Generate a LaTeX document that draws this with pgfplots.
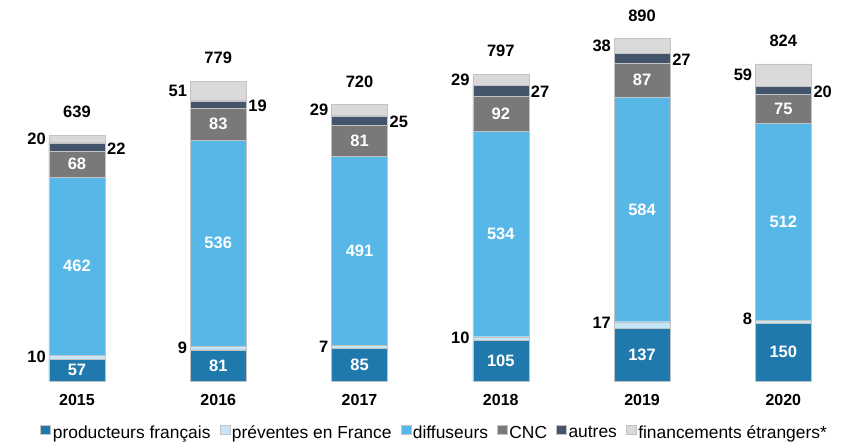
\documentclass[border=0pt]{standalone}
\usepackage{fontspec}
\setmainfont{Liberation Sans}
\usepackage{pgfplots}
\pgfplotsset{compat=1.18}
\usepackage{pgfplotstable}

\definecolor{cprod}{RGB}{31,121,172}
\definecolor{cprev}{RGB}{198,229,247}
\definecolor{cdiff}{RGB}{87,184,232}
\definecolor{ccnc}{RGB}{121,121,121}
\definecolor{caut}{RGB}{68,84,106}
\definecolor{cfin}{RGB}{217,217,217}
\definecolor{cedge}{RGB}{195,195,195}

\pgfplotstableread{
x prod prev diff cnc autres fin
0 57 10 462 68 22 20
1 81 9 536 83 19 51
2 85 7 491 81 25 29
3 105 10 534 92 27 29
4 137 17 584 87 27 38
5 150 8 512 75 20 59
}\data

% white labels inside the bars (segment middles)
\pgfplotstableread{
x y lab
0 28.5 57
1 40.5 81
2 42.5 85
3 52.5 105
4 68.5 137
5 75 150
0 298 462
1 358 536
2 337.5 491
3 382 534
4 446 584
5 414 512
0 563 68
1 667.5 83
2 623.5 81
3 695 92
4 781.5 87
5 707.5 75
}\inlab

% labels left of the bars
\pgfplotstableread{
x y lab
0 64 10
1 87 9
2 90 7
3 113 10
4 150 17
5 162 8
0 629 20
1 753.5 51
2 703.5 29
3 782.5 29
4 871 38
5 794.5 59
}\leftlab

% labels right of the bars
\pgfplotstableread{
x y lab
0 604 22
1 714.5 19
2 672.5 25
3 750.5 27
4 834.5 27
5 751 20
}\rightlab

% totals
\pgfplotstableread{
x y lab
0 699 639
1 839 779
2 778 720
3 857 797
4 948 890
5 884 824
}\totlab

\pgfplotsset{
  common/.style={
    scale only axis, width=849pt, height=381pt,
    xmin=-0.545, xmax=5.465, ymin=0, ymax=990,
    clip=false,
  },
}

\begin{document}
\begin{tikzpicture}
\begin{axis}[
  common,
  ybar stacked, bar width=56pt,
  axis line style={draw=none},
  major tick length=0pt,
  ytick=\empty,
  xtick={0,1,2,3,4,5},
  xticklabels={\textbf{2015},\textbf{2016},\textbf{2017},\textbf{2018},\textbf{2019},\textbf{2020}},
  xticklabel style={font=\fontsize{16}{18}\selectfont, yshift=-10pt},
  legend style={at={(0.512,-0.1365)}, anchor=center, draw=none, fill=none,
    legend columns=-1, font=\fontsize{17.4}{19}\selectfont,
    /tikz/every even column/.append style={column sep=7pt},
    inner sep=0pt, outer sep=0pt},
  legend image code/.code={\fill[#1] (0pt,-1pt) rectangle (10pt,8pt);},
  every axis plot/.append style={draw=cedge, line width=0.4pt},
]
\addplot[fill=cprod] table[x=x, y=prod] {\data};
\addlegendentry{producteurs français}
\addplot[fill=cprev] table[x=x, y=prev] {\data};
\addlegendentry{préventes en France}
\addplot[fill=cdiff] table[x=x, y=diff] {\data};
\addlegendentry{diffuseurs}
\addplot[fill=ccnc] table[x=x, y=cnc] {\data};
\addlegendentry{CNC}
\addplot[fill=caut] table[x=x, y=autres] {\data};
\addlegendentry{autres}
\addplot[fill=cfin] table[x=x, y=fin] {\data};
\addlegendentry{financements étrangers*}
\coordinate (tl) at (rel axis cs:0,1);
\end{axis}
\begin{axis}[common, hide axis]
\addplot[draw=none, mark=none, nodes near coords, point meta=explicit symbolic,
  nodes near coords style={anchor=center, text=white, font=\fontsize{16.5}{18}\selectfont\bfseries}]
  table[x=x, y=y, meta=lab] {\inlab};
\addplot[draw=none, mark=none, nodes near coords, point meta=explicit symbolic,
  nodes near coords style={anchor=east, xshift=-30pt, inner sep=1pt, text=black, font=\fontsize{16.5}{18}\selectfont\bfseries}]
  table[x=x, y=y, meta=lab] {\leftlab};
\addplot[draw=none, mark=none, nodes near coords, point meta=explicit symbolic,
  nodes near coords style={anchor=west, xshift=29pt, inner sep=1pt, text=black, font=\fontsize{16.5}{18}\selectfont\bfseries}]
  table[x=x, y=y, meta=lab] {\rightlab};
\addplot[draw=none, mark=none, nodes near coords, point meta=explicit symbolic,
  nodes near coords style={anchor=center, text=black, font=\fontsize{16.5}{18}\selectfont\bfseries}]
  table[x=x, y=y, meta=lab] {\totlab};
\end{axis}
\pgfresetboundingbox
\path[use as bounding box] (tl) rectangle ++(849pt,-443pt);
\end{tikzpicture}
\end{document}
